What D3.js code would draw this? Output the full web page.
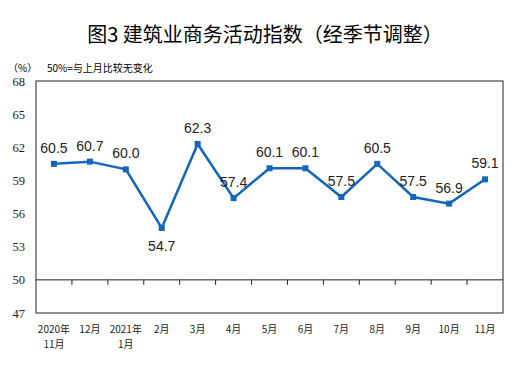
<!DOCTYPE html>
<html>
<head>
<meta charset="utf-8">
<script src="https://cdn.jsdelivr.net/npm/d3@7"></script>
<style>
  body { margin: 0; background: #fff; }
  svg { display: block; }
</style>
</head>
<body>
<script>
// chart data
var months = ["2020年\n11月", "12月", "2021年\n1月", "2月", "3月", "4月", "5月", "6月", "7月", "8月", "9月", "10月", "11月"];
var values = [60.5, 60.7, 60.0, 54.7, 62.3, 57.4, 60.1, 60.1, 57.5, 60.5, 57.5, 56.9, 59.1];
var yTicks = [47, 50, 53, 56, 59, 62, 65, 68];
var below = [false, false, false, true, false, false, false, false, false, false, false, false, false];

var W = 517, H = 375;
var margin = {top: 81, right: 14, bottom: 62, left: 36};

var svg = d3.select("body").append("svg")
    .attr("width", W)
    .attr("height", H);

var x = d3.scaleBand()
    .domain(d3.range(months.length))
    .range([margin.left, W - margin.right]);

var y = d3.scaleLinear()
    .domain([47, 68])
    .range([H - margin.bottom, margin.top]);

// title
svg.append("text")
    .attr("x", 265).attr("y", 42)
    .attr("text-anchor", "middle")
    .style("font-family", "'Noto Sans CJK SC'")
    .style("font-size", "20px")
    .style("font-weight", 400)
    .text("图3  建筑业商务活动指数（经季节调整）");

svg.append("text")
    .attr("x", 8).attr("y", 72)
    .style("font-family", "'Noto Sans CJK SC'")
    .style("font-size", "10px")
    .text("（%）");

svg.append("text")
    .attr("x", 47).attr("y", 72)
    .style("font-family", "'Noto Sans CJK SC'")
    .style("font-size", "10px")
    .text("50%=与上月比较无变化");

// frame
svg.append("rect")
    .attr("x", margin.left).attr("y", margin.top)
    .attr("width", W - margin.left - margin.right)
    .attr("height", H - margin.top - margin.bottom)
    .attr("fill", "none")
    .attr("stroke", "#222")
    .attr("stroke-width", 1);

// y axis labels
var yAxis = d3.axisLeft(y).tickValues(yTicks).tickSize(0).tickPadding(11);
svg.append("g")
    .attr("transform", "translate(" + margin.left + ",0)")
    .call(yAxis)
    .call(g => g.select(".domain").remove())
    .selectAll("text")
    .style("font-family", "'Liberation Serif'")
    .style("font-size", "12.5px")
    .attr("fill", "#222");

// 50 line with ticks at band edges
var xAxis = d3.axisBottom(x).tickSize(5).tickFormat("");
var ax = svg.append("g")
    .attr("transform", "translate(0," + y(50) + ")")
    .call(xAxis);
ax.select(".domain").attr("d", "M" + margin.left + ",0H" + (W - margin.right)).attr("stroke", "#222");
ax.selectAll(".tick line")
    .attr("transform", "translate(" + (x.bandwidth() / 2) + ",0)")
    .attr("stroke", "#222");
ax.selectAll(".tick").filter((d, i) => i === months.length - 1).remove();

// category labels
var lab = svg.append("g");
months.forEach(function(m, i) {
    var parts = m.split("\n");
    var t = lab.append("text")
        .attr("x", x(i) + x.bandwidth() / 2)
        .attr("y", 333)
        .attr("text-anchor", "middle")
        .style("font-family", "'Noto Sans CJK SC'")
        .style("font-size", "10px")
        .attr("fill", "#222");
    parts.forEach(function(p, k) {
        t.append("tspan")
            .attr("x", x(i) + x.bandwidth() / 2)
            .attr("dy", k === 0 ? 0 : 15)
            .text(p);
    });
});

// line
var line = d3.line()
    .x((d, i) => x(i) + x.bandwidth() / 2)
    .y(d => y(d));

svg.append("path")
    .datum(values)
    .attr("d", line)
    .attr("fill", "none")
    .attr("stroke", "#1566b9")
    .attr("stroke-width", 2.5);

svg.selectAll(".pt")
    .data(values)
    .enter().append("rect")
    .attr("x", (d, i) => x(i) + x.bandwidth() / 2 - 3)
    .attr("y", d => y(d) - 3)
    .attr("width", 6).attr("height", 6)
    .attr("fill", "#1566b9");

svg.selectAll(".vl")
    .data(values)
    .enter().append("text")
    .attr("x", (d, i) => x(i) + x.bandwidth() / 2)
    .attr("y", (d, i) => below[i] ? y(d) + 23 : y(d) - 11)
    .attr("text-anchor", "middle")
    .style("font-family", "'Liberation Sans'")
    .style("font-size", "14px")
    .attr("fill", "#222")
    .text(d => d.toFixed(1));
</script>
</body>
</html>
